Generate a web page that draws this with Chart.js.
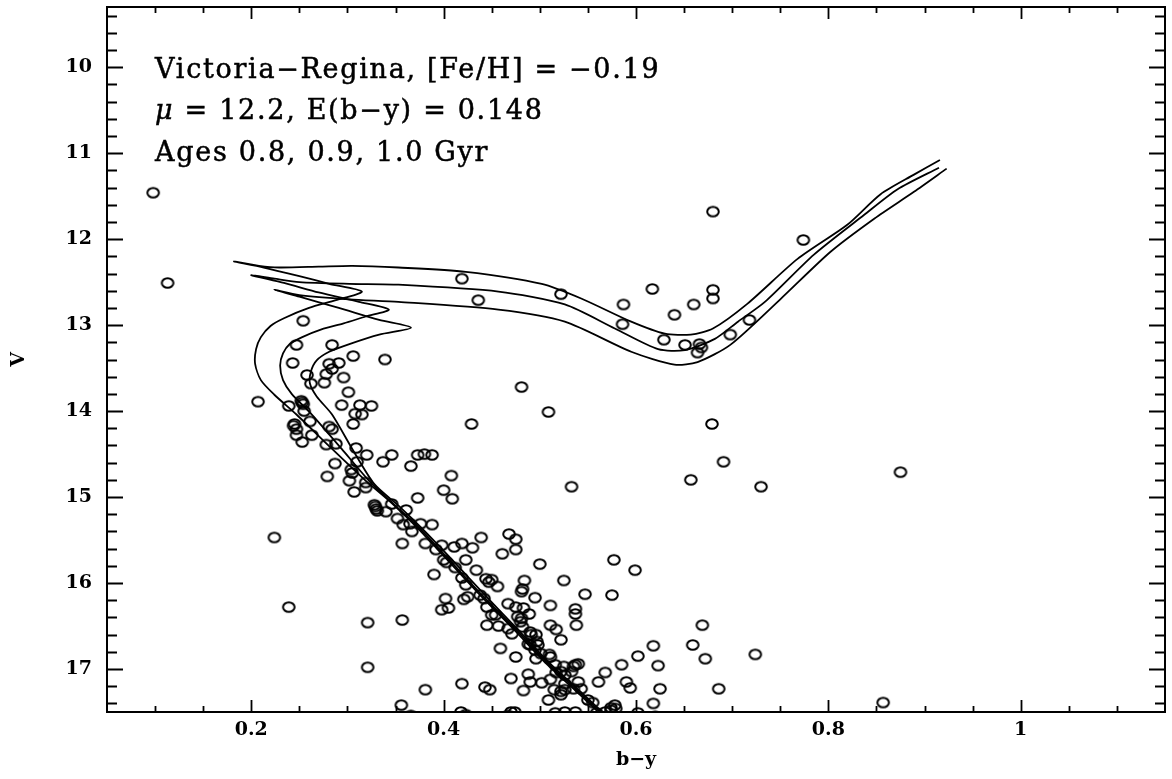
<!DOCTYPE html>
<html>
<head>
<meta charset="utf-8">
<script src="https://cdn.jsdelivr.net/npm/chart.js@4.4.0/dist/chart.umd.min.js"></script>
<style>
  html, body { margin: 0; padding: 0; background: #fff; }
</style>
</head>
<body>
<canvas id="cmd" width="1172" height="779"></canvas>
<script>
// axis ticks (labelled)
const xTickValues = [0.2, 0.4, 0.6, 0.8, 1.0];
const yTickValues = [10, 11, 12, 13, 14, 15, 16, 17];

// observed stars: b-y and V
const starColour = [
  0.098, 0.113, 0.419, 0.436, 0.522, 0.587, 0.586, 0.617, 0.640, 0.660,
  0.680, 0.680, 0.629, 0.651, 0.666, 0.668, 0.664, 0.698, 0.718, 0.774,
  0.680, 0.481, 0.509, 0.429, 0.679, 0.691, 0.657, 0.730, 0.875, 0.533,
  0.254, 0.247, 0.284, 0.306, 0.339, 0.243, 0.281, 0.291, 0.284, 0.278,
  0.258, 0.296, 0.262, 0.276, 0.301, 0.207, 0.239, 0.252, 0.253, 0.254,
  0.294, 0.313, 0.325, 0.255, 0.308, 0.315, 0.306, 0.261, 0.245, 0.244,
  0.247, 0.281, 0.284, 0.247, 0.263, 0.288, 0.278, 0.253, 0.309, 0.320,
  0.346, 0.373, 0.380, 0.388, 0.310, 0.287, 0.304, 0.305, 0.337, 0.366,
  0.279, 0.302, 0.307, 0.319, 0.319, 0.329, 0.330, 0.328, 0.331, 0.346,
  0.340, 0.361, 0.352, 0.373, 0.400, 0.408, 0.409, 0.358, 0.367, 0.365,
  0.357, 0.381, 0.388, 0.392, 0.398, 0.411, 0.419, 0.430, 0.439, 0.400,
  0.403, 0.423, 0.224, 0.390, 0.434, 0.444, 0.450, 0.376, 0.468, 0.475,
  0.461, 0.475, 0.500, 0.412, 0.419, 0.447, 0.456, 0.423, 0.402, 0.398,
  0.405, 0.421, 0.425, 0.438, 0.442, 0.445, 0.450, 0.454, 0.467, 0.475,
  0.483, 0.484, 0.482, 0.481, 0.495, 0.511, 0.525, 0.547, 0.577, 0.599,
  0.575, 0.537, 0.537, 0.538, 0.445, 0.457, 0.467, 0.471, 0.480, 0.482,
  0.490, 0.496, 0.498, 0.511, 0.517, 0.522, 0.321, 0.357, 0.459, 0.475,
  0.490, 0.495, 0.501, 0.496, 0.511, 0.516, 0.522, 0.526, 0.533, 0.537,
  0.540, 0.568, 0.561, 0.585, 0.602, 0.321, 0.381, 0.419, 0.443, 0.448,
  0.470, 0.483, 0.490, 0.502, 0.511, 0.517, 0.526, 0.509, 0.526, 0.540,
  0.543, 0.550, 0.555, 0.356, 0.366, 0.418, 0.423, 0.470, 0.467, 0.516,
  0.526, 0.537, 0.559, 0.568, 0.574, 0.579, 0.590, 0.594, 0.602, 0.239,
  0.477, 0.481, 0.489, 0.488, 0.491, 0.497, 0.510, 0.488, 0.525, 0.515,
  0.522, 0.522, 0.535, 0.535, 0.474, 0.857, 0.669, 0.618, 0.659, 0.724,
  0.672, 0.623, 0.625, 0.686, 0.618, 0.578, 0.574, 0.620
];
const starMag = [
  11.46, 12.51, 12.46, 12.71, 12.64, 12.76, 12.99, 12.58, 12.88, 12.76,
  12.59, 12.69, 13.17, 13.23, 13.22, 13.26, 13.32, 13.11, 12.94, 12.01,
  11.68, 13.72, 14.01, 14.15, 14.15, 14.59, 14.80, 14.88, 14.71, 14.88,
  12.95, 13.23, 13.23, 13.36, 13.40, 13.44, 13.45, 13.44, 13.51, 13.57,
  13.58, 13.61, 13.68, 13.67, 13.78, 13.89, 13.94, 13.88, 13.90, 13.92,
  13.93, 13.93, 13.94, 14.00, 14.03, 14.04, 14.15, 14.12, 14.15, 14.17,
  14.21, 14.18, 14.21, 14.28, 14.28, 14.38, 14.39, 14.36, 14.43, 14.51,
  14.51, 14.51, 14.50, 14.51, 14.59, 14.61, 14.68, 14.72, 14.59, 14.64,
  14.76, 14.81, 14.94, 14.83, 14.89, 15.11, 15.14, 15.09, 15.16, 15.08,
  15.17, 15.15, 15.25, 15.01, 14.92, 14.75, 15.02, 15.32, 15.40, 15.31,
  15.54, 15.54, 15.32, 15.61, 15.56, 15.58, 15.54, 15.59, 15.47, 15.73,
  15.76, 15.73, 15.47, 15.90, 15.85, 15.95, 15.96, 15.31, 15.43, 15.49,
  15.66, 15.61, 15.78, 15.82, 15.94, 15.99, 16.04, 16.02, 16.18, 16.31,
  16.29, 16.19, 16.16, 16.14, 16.18, 16.28, 16.37, 16.37, 16.24, 16.28,
  16.29, 15.97, 16.07, 16.10, 16.17, 16.26, 15.97, 16.13, 15.73, 15.85,
  16.14, 16.30, 16.36, 16.49, 16.49, 16.50, 16.53, 16.59, 16.45, 16.51,
  16.57, 16.60, 16.72, 16.49, 16.54, 16.66, 16.46, 16.43, 16.76, 16.86,
  16.72, 16.78, 16.82, 16.88, 16.86, 16.95, 17.03, 17.07, 17.03, 16.95,
  16.94, 17.04, 17.15, 16.95, 16.85, 16.98, 17.24, 17.17, 17.21, 17.24,
  17.11, 17.25, 17.15, 17.16, 17.12, 17.04, 17.17, 17.36, 17.24, 17.15,
  17.23, 17.36, 17.39, 17.42, 17.54, 17.50, 17.53, 17.50, 17.54, 17.51,
  17.50, 17.50, 17.51, 17.50, 17.48, 17.46, 17.15, 17.22, 17.51, 16.28,
  16.39, 16.41, 16.36, 16.71, 16.60, 16.68, 16.83, 17.06, 16.97, 17.24,
  17.26, 17.30, 17.23, 16.97, 17.50, 17.39, 16.49, 16.73, 16.72, 16.83,
  16.88, 16.96, 17.23, 17.23, 17.40, 17.42, 17.45, 17.55
];

// Victoria-Regina isochrones, 0.8 / 0.9 / 1.0 Gyr
const iso08Colour = [0.574, 0.538, 0.507, 0.473, 0.437, 0.403, 0.372, 0.344, 0.318, 0.284, 0.247, 0.224, 0.210, 0.204, 0.205, 0.210, 0.220, 0.234, 0.260, 0.288, 0.315, 0.281, 0.250, 0.213, 0.182, 0.208, 0.229, 0.270, 0.305, 0.353, 0.423, 0.502, 0.543, 0.595, 0.630, 0.657, 0.680, 0.716, 0.768, 0.820, 0.854, 0.889, 0.916];
const iso08Mag = [17.64, 17.26, 16.94, 16.54, 16.13, 15.72, 15.35, 15.05, 14.80, 14.44, 14.04, 13.81, 13.64, 13.45, 13.28, 13.14, 13.01, 12.92, 12.80, 12.71, 12.61, 12.52, 12.43, 12.33, 12.26, 12.31, 12.33, 12.32, 12.31, 12.33, 12.38, 12.52, 12.69, 12.96, 13.10, 13.11, 13.04, 12.75, 12.23, 11.83, 11.48, 11.25, 11.08];

const iso09Colour = [0.576, 0.540, 0.509, 0.475, 0.439, 0.405, 0.375, 0.349, 0.324, 0.294, 0.263, 0.242, 0.233, 0.230, 0.233, 0.240, 0.253, 0.273, 0.296, 0.319, 0.343, 0.312, 0.270, 0.234, 0.200, 0.224, 0.250, 0.302, 0.353, 0.457, 0.526, 0.578, 0.623, 0.651, 0.682, 0.706, 0.734, 0.785, 0.837, 0.872, 0.915];
const iso09Mag = [17.64, 17.26, 16.94, 16.54, 16.13, 15.72, 15.36, 15.09, 14.83, 14.44, 14.04, 13.80, 13.64, 13.47, 13.33, 13.22, 13.14, 13.05, 12.98, 12.90, 12.82, 12.73, 12.62, 12.51, 12.42, 12.46, 12.50, 12.52, 12.53, 12.61, 12.76, 13.04, 13.28, 13.29, 13.16, 12.96, 12.73, 12.18, 11.72, 11.42, 11.17];

const iso10Colour = [0.578, 0.542, 0.511, 0.477, 0.442, 0.408, 0.378, 0.353, 0.328, 0.305, 0.284, 0.268, 0.261, 0.262, 0.268, 0.281, 0.302, 0.333, 0.366, 0.333, 0.291, 0.250, 0.224, 0.250, 0.302, 0.353, 0.457, 0.526, 0.595, 0.640, 0.664, 0.698, 0.750, 0.802, 0.848, 0.889, 0.923];
const iso10Mag = [17.64, 17.26, 16.94, 16.54, 16.13, 15.72, 15.37, 15.10, 14.85, 14.44, 14.04, 13.83, 13.68, 13.54, 13.41, 13.31, 13.22, 13.11, 13.03, 12.94, 12.80, 12.67, 12.59, 12.65, 12.70, 12.73, 12.82, 12.96, 13.31, 13.46, 13.43, 13.23, 12.70, 12.15, 11.76, 11.45, 11.18];

// annotation, anchored in data coordinates
const noteLines = ['Victoria\u2212Regina, [Fe/H] = \u22120.19', ' = 12.2, E(b\u2212y) = 0.148', 'Ages 0.8, 0.9, 1.0 Gyr'];
const noteColour = 0.1;
const noteMags = [10.12, 10.6, 11.09];

const toPoints = (xs, ys) => xs.map((v, i) => ({ x: v, y: ys[i] }));

// open ellipse marker, a bit wider than tall
function ellipseMarker() {
    const c = document.createElement('canvas');
    c.width = 16;
    c.height = 14;
    const g = c.getContext('2d');
    g.strokeStyle = '#000';
    g.lineWidth = 2;
    g.beginPath();
    g.ellipse(8, 7, 5.8, 4.8, 0, 0, Math.PI * 2);
    g.stroke();
    return c;
}

const tickFont = { family: '"DejaVu Serif", serif', size: 19, weight: 'bold' };

function isoLine(xs, ys) {
    return {
        type: 'line',
        data: toPoints(xs, ys),
        showLine: true,
        borderColor: '#000',
        borderWidth: 1.8,
        pointRadius: 0,
        tension: 0.25,
        fill: false,
        clip: 0
    };
}

// frame with inward ticks on all four sides
const framePlugin = {
    id: 'frame',
    afterDatasetsDraw(chart) {
        const { ctx, chartArea: a, scales: { x, y } } = chart;
        ctx.save();
        ctx.strokeStyle = '#000';
        ctx.lineWidth = 2;
        ctx.strokeRect(a.left, a.top, a.right - a.left, a.bottom - a.top);
        ctx.lineWidth = 1.8;
        ctx.beginPath();
        for (let k = Math.ceil(x.min / 0.05); k * 0.05 < x.max - 1e-6; k++) {
            const px = Math.round(x.getPixelForValue(k * 0.05)) + 0.5;
            if (px <= a.left + 1) continue;
            const len = k % 4 === 0 ? 12 : 6;
            ctx.moveTo(px, a.bottom); ctx.lineTo(px, a.bottom - len);
            ctx.moveTo(px, a.top); ctx.lineTo(px, a.top + len);
        }
        for (let k = Math.ceil(y.min / 0.2 - 1e-6); k * 0.2 < y.max - 1e-6; k++) {
            const py = Math.round(y.getPixelForValue(k * 0.2)) + 0.5;
            if (py <= a.top + 1) continue;
            const len = k % 5 === 0 ? 16 : 10;
            ctx.moveTo(a.left, py); ctx.lineTo(a.left + len, py);
            ctx.moveTo(a.right, py); ctx.lineTo(a.right - len, py);
        }
        ctx.stroke();
        ctx.restore();
    }
};

const notesPlugin = {
    id: 'notes',
    afterDraw(chart) {
        const { ctx, scales: { x, y } } = chart;
        const left = x.getPixelForValue(noteColour);
        const font = '27px "DejaVu Serif", serif';
        ctx.save();
        ctx.fillStyle = '#000';
        ctx.strokeStyle = '#000';
        ctx.lineWidth = 0.5;
        ctx.textBaseline = 'alphabetic';
        ctx.textAlign = 'left';
        ctx.letterSpacing = '1.7px';
        ctx.font = font;
        const y1 = y.getPixelForValue(noteMags[0]);
        ctx.fillText(noteLines[0], left, y1);
        ctx.strokeText(noteLines[0], left, y1);
        // second line starts with an italic mu
        ctx.font = 'italic ' + font;
        const y2 = y.getPixelForValue(noteMags[1]);
        ctx.fillText('\u03bc', left, y2);
        ctx.strokeText('\u03bc', left, y2);
        const muWidth = ctx.measureText('\u03bc').width;
        ctx.font = font;
        ctx.fillText(noteLines[1], left + muWidth, y2);
        ctx.strokeText(noteLines[1], left + muWidth, y2);
        const y3 = y.getPixelForValue(noteMags[2]);
        ctx.fillText(noteLines[2], left, y3);
        ctx.strokeText(noteLines[2], left, y3);
        ctx.restore();
    }
};

const chart = new Chart(document.getElementById('cmd'), {
    type: 'scatter',
    data: {
        datasets: [
            isoLine(iso08Colour, iso08Mag),
            isoLine(iso09Colour, iso09Mag),
            isoLine(iso10Colour, iso10Mag),
            {
                data: toPoints(starColour, starMag),
                pointStyle: ellipseMarker(),
                pointRadius: 6,
                clip: 0
            }
        ]
    },
    options: {
        responsive: false,
        animation: false,
        layout: { padding: { top: 5, right: 5, left: 0, bottom: 0 } },
        plugins: {
            legend: { display: false },
            tooltip: { enabled: false }
        },
        scales: {
            x: {
                type: 'linear',
                min: 0.05,
                max: 1.15,
                grid: { display: false, drawTicks: false },
                border: { display: false },
                afterBuildTicks: (s) => { s.ticks = xTickValues.map(v => ({ value: v })); },
                afterFit: (s) => {
                    s.height = 67;
                    s.paddingLeft = 0;
                    s.paddingRight = 0;
                },
                ticks: {
                    padding: 7,
                    color: '#000',
                    font: tickFont,
                    maxRotation: 0,
                    callback: (v) => String(+v.toFixed(2))
                },
                title: {
                    display: true,
                    text: 'b\u2212y',
                    color: '#000',
                    font: tickFont,
                    padding: { top: 0, bottom: 8 }
                }
            },
            y: {
                type: 'linear',
                reverse: true,
                min: 9.3,
                max: 17.5,
                grid: { display: false, drawTicks: false },
                border: { display: false },
                afterBuildTicks: (s) => { s.ticks = yTickValues.map(v => ({ value: v })); },
                afterFit: (s) => {
                    s.width = 107;
                    s.paddingTop = 0;
                    s.paddingBottom = 0;
                },
                ticks: {
                    padding: 15,
                    color: '#000',
                    font: tickFont,
                    callback: (v) => String(v)
                },
                title: {
                    display: true,
                    text: 'V',
                    color: '#000',
                    font: tickFont,
                    padding: { top: 8, bottom: 0 }
                }
            }
        }
    },
    plugins: [framePlugin, notesPlugin]
});
</script>
</body>
</html>
